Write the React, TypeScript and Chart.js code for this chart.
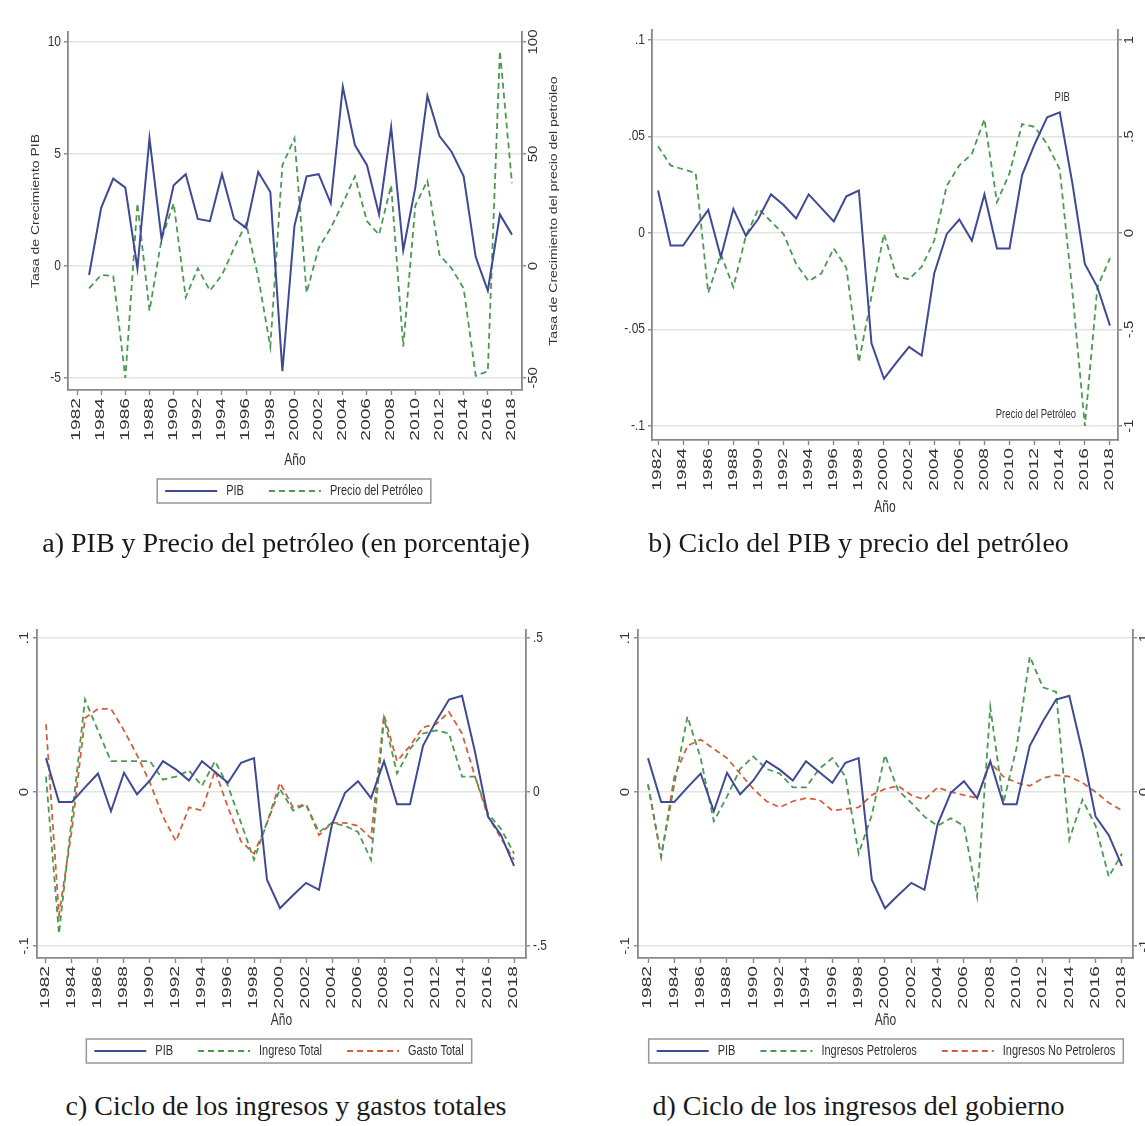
import React, { useEffect, useRef } from "react";
import { Chart, registerables } from "chart.js";

Chart.register(...registerables);

// ---------------- DATA ----------------
const years = [
  1982, 1983, 1984, 1985, 1986, 1987, 1988, 1989, 1990, 1991, 1992, 1993, 1994,
  1995, 1996, 1997, 1998, 1999, 2000, 2001, 2002, 2003, 2004, 2005, 2006, 2007,
  2008, 2009, 2010, 2011, 2012, 2013, 2014, 2015, 2016, 2017, 2018,
];
const yearTicks = [
  1982, 1984, 1986, 1988, 1990, 1992, 1994, 1996, 1998, 2000, 2002, 2004, 2006,
  2008, 2010, 2012, 2014, 2016, 2018,
];
const yearTickLabels = yearTicks.map((y) => String(y));

// a) growth rates (%)
const pibCrecimiento = [
  null, -0.4, 2.6, 3.9, 3.5, -0.1, 5.7, 1.2, 3.6, 4.1, 2.1, 2.0, 4.1, 2.1, 1.7,
  4.2, 3.3, -4.7, 1.8, 4.0, 4.1, 2.8, 8.0, 5.4, 4.5, 2.3, 6.2, 0.7, 3.5, 7.6,
  5.8, 5.1, 4.0, 0.4, -1.1, 2.3, 1.4,
];
const petroleoCrecimiento = [
  null, -10, -4, -4.5, -50, 28, -20, 12, 28, -14, -1, -11, -4, 8, 19, -5, -36,
  45, 57, -12, 8, 17, 28, 40, 20, 14, 36, -36, 27, 38, 5, -1, -10, -49, -47, 96,
  37,
];

// b) cycles
const pibCiclo = [
  0.022, -0.0065, -0.0065, 0.003, 0.012, -0.0125, 0.0125, -0.0015, 0.0075, 0.02,
  0.0145, 0.0075, 0.02, 0.013, 0.006, 0.019, 0.022, -0.057, -0.0755, -0.067,
  -0.059, -0.0635, -0.021, -0.0005, 0.007, -0.004, 0.02, -0.008, -0.008, 0.03,
  0.046, 0.06, 0.0625, 0.026, -0.016, -0.028, -0.048,
];
const petroleoCiclo = [
  0.45, 0.35, 0.33, 0.31, -0.31, -0.11, -0.28, -0.015, 0.125, 0.06, -0.005,
  -0.16, -0.25, -0.21, -0.08, -0.18, -0.67, -0.33, -0.005, -0.225, -0.24,
  -0.175, -0.04, 0.245, 0.35, 0.41, 0.59, 0.16, 0.31, 0.565, 0.55, 0.46, 0.33,
  -0.3, -1.0, -0.28, -0.13,
];

// c) total revenue / expenditure cycles
const ingresoTotalCiclo = [
  0.05, -0.46, -0.08, 0.3, 0.2, 0.1, 0.1, 0.1, 0.1, 0.04, 0.05, 0.07, 0.02,
  0.1, 0.02, -0.1, -0.22, -0.1, 0.01, -0.06, -0.04, -0.13, -0.1, -0.11, -0.13,
  -0.22, 0.24, 0.06, 0.14, 0.19, 0.2, 0.19, 0.05, 0.05, -0.07, -0.12, -0.2,
];
const gastoTotalCiclo = [
  0.22, -0.4, -0.12, 0.24, 0.27, 0.27, 0.2, 0.12, 0.03, -0.08, -0.16, -0.05,
  -0.06, 0.07, -0.05, -0.16, -0.2, -0.1, 0.03, -0.05, -0.04, -0.14, -0.1, -0.1,
  -0.11, -0.15, 0.25, 0.1, 0.15, 0.21, 0.22, 0.26, 0.19, 0.05, -0.08, -0.15,
  -0.22,
];

// d) government revenue cycles
const ingresosPetrolerosCiclo = [
  0.05, -0.42, 0.05, 0.49, 0.22, -0.19, -0.03, 0.15, 0.23, 0.15, 0.12, 0.03,
  0.03, 0.15, 0.22, 0.1, -0.4, -0.15, 0.24, 0.01, -0.07, -0.16, -0.22, -0.17,
  -0.22, -0.68, 0.55, -0.07, 0.29, 0.88, 0.68, 0.65, -0.31, -0.05, -0.22,
  -0.55, -0.4,
];
const ingresosNoPetrolerosCiclo = [
  0.05, -0.42, 0.1, 0.3, 0.34, 0.28, 0.22, 0.12, 0.02, -0.06, -0.1, -0.06,
  -0.04, -0.05, -0.12, -0.11, -0.1, -0.02, 0.02, 0.04, -0.02, -0.05, 0.03, 0.0,
  -0.02, -0.04, 0.19, 0.1, 0.06, 0.04, 0.09, 0.11, 0.1, 0.06, 0.0, -0.07, -0.12,
];

// tick values / labels
const ticksA_L = [-5, 0, 5, 10];
const labelsA_L = ["-5", "0", "5", "10"];
const ticksA_R = [-50, 0, 50, 100];
const labelsA_R = ["-50", "0", "50", "100"];
const ticksB_L = [-0.1, -0.05, 0, 0.05, 0.1];
const labelsB_L = ["-.1", "-.05", "0", ".05", ".1"];
const ticksB_R = [-1, -0.5, 0, 0.5, 1];
const labelsB_R = ["-1", "-.5", "0", ".5", "1"];
const ticksCD_L = [-0.1, 0, 0.1];
const labelsCD_L = ["-.1", "0", ".1"];
const ticksC_R = [-0.5, 0, 0.5];
const labelsC_R = ["-.5", "0", ".5"];
const ticksD_R = [-1, 0, 1];
const labelsD_R = ["-1", "0", "1"];

// ---------------- STYLE ----------------
const FONT = '"Liberation Sans", Arial, Helvetica, sans-serif';
const SERIF = '"Liberation Serif", "Times New Roman", serif';
const AXIS = "#888888";
const GRID = "#e3e3e3";
const TXT = "#333333";
const C_PIB = "#3f4a94";
const C_GREEN = "#4c9a52";
const C_RED = "#d3603c";
const DASH = [6, 4];

type AxisSpec = {
  min: number;
  max: number;
  ticks: number[];
  labels: string[];
  rotate: boolean;
  title?: string;
  titleX?: number;
};
type SeriesSpec = {
  label: string;
  data: (number | null)[];
  axis: "yL" | "yR";
  color: string;
  dash: number[];
  width: number;
};
type NoteSpec = { text: string; x: number; y: number };
type PanelSpec = {
  left: number;
  top: number;
  width: number;
  height: number;
  area: { left: number; right: number; top: number; bottom: number };
  xMin: number;
  xMax: number;
  yL: AxisSpec;
  yR: AxisSpec;
  series: SeriesSpec[];
  xTitleY: number;
  legend?: { cx: number; cy: number };
  notes?: NoteSpec[];
};

function drawText(
  ctx: CanvasRenderingContext2D,
  text: string,
  x: number,
  y: number,
  o: {
    size: number;
    stretch?: number;
    rotate?: boolean;
    align?: CanvasTextAlign;
    baseline?: CanvasTextBaseline;
    color?: string;
  }
) {
  ctx.save();
  ctx.translate(x, y);
  const s = o.stretch ?? 1;
  if (o.rotate) {
    ctx.rotate(-Math.PI / 2);
    ctx.scale(s, 1);
  } else {
    ctx.scale(1, s);
  }
  ctx.font = `${o.size}px ${FONT}`;
  ctx.fillStyle = o.color ?? TXT;
  ctx.textAlign = o.align ?? "left";
  ctx.textBaseline = o.baseline ?? "middle";
  ctx.fillText(text, 0, 0);
  ctx.restore();
}

function makeTextPlugin(spec: PanelSpec) {
  return {
    id: "stataText",
    afterDraw(chart: any) {
      const ctx: CanvasRenderingContext2D = chart.ctx;
      const a = chart.chartArea;
      const sx = chart.scales.x;
      const yl = chart.scales.yL;
      const yr = chart.scales.yR;

      // x tick labels (vertical)
      yearTicks.forEach((v, i) => {
        drawText(ctx, yearTickLabels[i], sx.getPixelForValue(v), a.bottom + 8, {
          size: 12,
          stretch: 1.6,
          rotate: true,
          align: "right",
          baseline: "middle",
        });
      });

      // y tick labels
      const drawY = (scale: any, ax: AxisSpec, side: "L" | "R") => {
        ax.ticks.forEach((v, i) => {
          const py = scale.getPixelForValue(v);
          if (ax.rotate) {
            drawText(ctx, ax.labels[i], side === "L" ? a.left - 6 : a.right + 6, py, {
              size: 12,
              stretch: 1.25,
              rotate: true,
              align: "center",
              baseline: side === "L" ? "bottom" : "top",
            });
          } else {
            drawText(ctx, ax.labels[i], side === "L" ? a.left - 7 : a.right + 7, py, {
              size: 12,
              stretch: 1.2,
              align: side === "L" ? "right" : "left",
              baseline: "middle",
            });
          }
        });
        if (ax.title && ax.titleX !== undefined) {
          drawText(ctx, ax.title, ax.titleX, (a.top + a.bottom) / 2, {
            size: 10,
            stretch: 1.4,
            rotate: true,
            align: "center",
            baseline: "middle",
          });
        }
      };
      drawY(yl, spec.yL, "L");
      drawY(yr, spec.yR, "R");

      // x title
      drawText(ctx, "Año", (a.left + a.right) / 2, spec.xTitleY, {
        size: 12,
        stretch: 1.4,
        align: "center",
        baseline: "middle",
      });

      // notes (panel b)
      (spec.notes ?? []).forEach((n) => {
        drawText(ctx, n.text, sx.getPixelForValue(n.x), yl.getPixelForValue(n.y), {
          size: 9.5,
          stretch: 1.3,
          align: "center",
          baseline: "middle",
        });
      });

      // legend with box
      if (spec.legend) {
        const sampleLen = 52;
        const gap = 9;
        const itemGap = 25;
        const pad = 8;
        ctx.save();
        ctx.font = `11px ${FONT}`;
        const widths = spec.series.map((s) => ctx.measureText(s.label).width);
        ctx.restore();
        const total =
          widths.reduce((acc, w) => acc + sampleLen + gap + w, 0) +
          itemGap * (spec.series.length - 1);
        const boxW = total + pad * 2;
        const boxH = 24;
        const bx = spec.legend.cx - boxW / 2;
        const by = spec.legend.cy - boxH / 2;
        ctx.save();
        ctx.strokeStyle = "#969696";
        ctx.lineWidth = 1.5;
        ctx.strokeRect(bx, by, boxW, boxH);
        let cx = bx + pad;
        spec.series.forEach((s, i) => {
          ctx.save();
          ctx.strokeStyle = s.color;
          ctx.lineWidth = s.width;
          ctx.setLineDash(s.dash);
          ctx.beginPath();
          ctx.moveTo(cx, spec.legend!.cy);
          ctx.lineTo(cx + sampleLen, spec.legend!.cy);
          ctx.stroke();
          ctx.restore();
          cx += sampleLen + gap;
          drawText(ctx, s.label, cx, spec.legend!.cy, {
            size: 11,
            stretch: 1.3,
            align: "left",
            baseline: "middle",
          });
          cx += widths[i] + itemGap;
        });
        ctx.restore();
      }
    },
  };
}

function buildConfig(spec: PanelSpec): any {
  const area = spec.area;
  const mkY = (ax: AxisSpec, position: "left" | "right", width: number, grid: boolean) => ({
    type: "linear",
    position,
    min: ax.min,
    max: ax.max,
    afterBuildTicks: (s: any) => {
      s.ticks = ax.ticks.map((v) => ({ value: v }));
    },
    afterFit: (s: any) => {
      s.width = width;
    },
    ticks: { display: false },
    grid: {
      drawOnChartArea: grid,
      color: GRID,
      lineWidth: 1.5,
      drawTicks: true,
      tickLength: 4,
      tickColor: AXIS,
      tickWidth: 1.4,
    },
    border: { display: true, color: AXIS, width: 1.8 },
  });
  return {
    type: "line",
    data: {
      datasets: spec.series.map((s) => ({
        label: s.label,
        data: years.map((yr, i) => ({ x: yr, y: s.data[i] })),
        yAxisID: s.axis,
        borderColor: s.color,
        borderWidth: s.width,
        borderDash: s.dash,
        pointRadius: 0,
        fill: false,
        tension: 0,
        spanGaps: false,
      })),
    },
    options: {
      animation: false,
      responsive: false,
      maintainAspectRatio: false,
      devicePixelRatio: 1,
      events: [],
      layout: { autoPadding: false, padding: { top: area.top, left: 0, right: 0, bottom: 0 } },
      plugins: { legend: { display: false }, tooltip: { enabled: false }, title: { display: false } },
      scales: {
        x: {
          type: "linear",
          min: spec.xMin,
          max: spec.xMax,
          afterBuildTicks: (s: any) => {
            s.ticks = yearTicks.map((v) => ({ value: v }));
          },
          afterFit: (s: any) => {
            s.height = spec.height - area.bottom;
          },
          ticks: { display: false },
          grid: {
            drawOnChartArea: false,
            drawTicks: true,
            tickLength: 5,
            tickColor: AXIS,
            tickWidth: 1.4,
          },
          border: { display: true, color: AXIS, width: 1.8 },
        },
        yL: mkY(spec.yL, "left", area.left, true),
        yR: mkY(spec.yR, "right", spec.width - area.right, false),
      },
    },
    plugins: [makeTextPlugin(spec)],
  };
}

// ---------------- PANELS ----------------
const panelA: PanelSpec = {
  left: 0,
  top: 0,
  width: 572,
  height: 520,
  area: { left: 68, right: 522, top: 32, bottom: 390 },
  xMin: 1981.255,
  xMax: 2018.83,
  yL: {
    min: -5.536,
    max: 10.446,
    ticks: ticksA_L,
    labels: labelsA_L,
    rotate: false,
    title: "Tasa de Crecimiento PIB",
    titleX: 36,
  },
  yR: {
    min: -55.36,
    max: 104.46,
    ticks: ticksA_R,
    labels: labelsA_R,
    rotate: true,
    title: "Tasa de Crecimiento del precio del petróleo",
    titleX: 554,
  },
  series: [
    { label: "PIB", data: pibCrecimiento, axis: "yL", color: C_PIB, dash: [], width: 2 },
    { label: "Precio del Petróleo", data: petroleoCrecimiento, axis: "yR", color: C_GREEN, dash: DASH, width: 1.8 },
  ],
  xTitleY: 460,
  legend: { cx: 294, cy: 491 },
};

const panelB: PanelSpec = {
  left: 572,
  top: 0,
  width: 573,
  height: 520,
  area: { left: 80, right: 546, top: 30, bottom: 440 },
  xMin: 1981.52,
  xMax: 2018.64,
  yL: { min: -0.10725, max: 0.10518, ticks: ticksB_L, labels: labelsB_L, rotate: false },
  yR: { min: -1.0725, max: 1.0518, ticks: ticksB_R, labels: labelsB_R, rotate: true },
  series: [
    { label: "PIB", data: pibCiclo, axis: "yL", color: C_PIB, dash: [], width: 2 },
    { label: "Precio del Petróleo", data: petroleoCiclo, axis: "yR", color: C_GREEN, dash: DASH, width: 1.8 },
  ],
  xTitleY: 507,
  notes: [
    { text: "PIB", x: 2014.2, y: 0.07 },
    { text: "Precio del Petróleo", x: 2012.1, y: -0.094 },
  ],
};

const panelC: PanelSpec = {
  left: 0,
  top: 560,
  width: 572,
  height: 520,
  area: { left: 37, right: 526, top: 70, bottom: 398 },
  xMin: 1981.31,
  xMax: 2018.92,
  yL: { min: -0.10779, max: 0.10519, ticks: ticksCD_L, labels: labelsCD_L, rotate: true },
  yR: { min: -0.53895, max: 0.52595, ticks: ticksC_R, labels: labelsC_R, rotate: false },
  series: [
    { label: "PIB", data: pibCiclo, axis: "yL", color: C_PIB, dash: [], width: 2 },
    { label: "Ingreso Total", data: ingresoTotalCiclo, axis: "yR", color: C_GREEN, dash: DASH, width: 1.8 },
    { label: "Gasto Total", data: gastoTotalCiclo, axis: "yR", color: C_RED, dash: DASH, width: 1.8 },
  ],
  xTitleY: 460,
  legend: { cx: 279, cy: 491 },
};

const panelD: PanelSpec = {
  left: 572,
  top: 560,
  width: 573,
  height: 520,
  area: { left: 66, right: 561, top: 70, bottom: 398 },
  xMin: 1981.24,
  xMax: 2018.84,
  yL: { min: -0.10779, max: 0.10519, ticks: ticksCD_L, labels: labelsCD_L, rotate: true },
  yR: { min: -1.0779, max: 1.0519, ticks: ticksD_R, labels: labelsD_R, rotate: true },
  series: [
    { label: "PIB", data: pibCiclo, axis: "yL", color: C_PIB, dash: [], width: 2 },
    { label: "Ingresos Petroleros", data: ingresosPetrolerosCiclo, axis: "yR", color: C_GREEN, dash: DASH, width: 1.8 },
    { label: "Ingresos No Petroleros", data: ingresosNoPetrolerosCiclo, axis: "yR", color: C_RED, dash: DASH, width: 1.8 },
  ],
  xTitleY: 460,
  legend: { cx: 314, cy: 491 },
};

const captions = [
  { text: "a) PIB y Precio del petróleo (en porcentaje)", left: 0, width: 572, cy: 543 },
  { text: "b) Ciclo del PIB y precio del petróleo", left: 572, width: 573, cy: 543 },
  { text: "c) Ciclo de los ingresos y gastos totales", left: 0, width: 572, cy: 1106 },
  { text: "d) Ciclo de los ingresos del gobierno", left: 572, width: 573, cy: 1106 },
];

function Panel({ spec }: { spec: PanelSpec }) {
  const ref = useRef<HTMLCanvasElement>(null);
  useEffect(() => {
    if (!ref.current) return;
    const chart = new Chart(ref.current, buildConfig(spec));
    return () => chart.destroy();
  }, [spec]);
  return (
    <canvas
      ref={ref}
      width={spec.width}
      height={spec.height}
      style={{
        position: "absolute",
        left: spec.left,
        top: spec.top,
        width: spec.width,
        height: spec.height,
      }}
    />
  );
}

export default function App() {
  useEffect(() => {
    document.body.style.margin = "0";
    document.body.style.background = "#ffffff";
  }, []);
  return (
    <div
      style={{
        position: "relative",
        width: 1145,
        height: 1126,
        overflow: "hidden",
        background: "#ffffff",
      }}
    >
      <Panel spec={panelA} />
      <Panel spec={panelB} />
      <Panel spec={panelC} />
      <Panel spec={panelD} />
      {captions.map((c) => (
        <div
          key={c.text}
          style={{
            position: "absolute",
            left: c.left,
            width: c.width,
            top: c.cy - 18,
            height: 36,
            lineHeight: "36px",
            textAlign: "center",
            fontFamily: SERIF,
            fontSize: 28,
            color: "#1a1a1a",
            whiteSpace: "nowrap",
          }}
        >
          {c.text}
        </div>
      ))}
    </div>
  );
}
